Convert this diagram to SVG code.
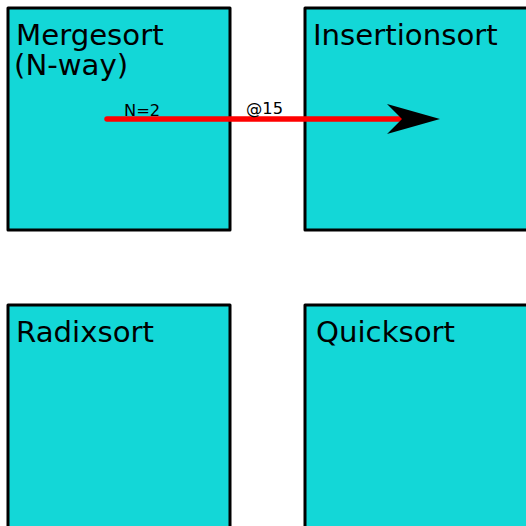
<svg xmlns="http://www.w3.org/2000/svg" width="526" height="526" viewBox="0 0 526 526">
  <style>
    .box { fill: #13d7d7; stroke: #000; stroke-width: 3; stroke-linejoin: round; }
    .title { font-family: "DejaVu Sans", sans-serif; font-size: 29.2px; fill: #000; }
    .lbl { font-family: "DejaVu Sans", sans-serif; font-size: 16.3px; fill: #000; }
    .edge { stroke: #ff0000; stroke-width: 5.5; stroke-linecap: round; fill: none; }
  </style>
  <rect width="526" height="526" fill="#fff"/>
  <g id="mergesort">
    <rect class="box" x="8" y="8" width="222" height="222"/>
    <text class="title" x="16" y="45">Mergesort<tspan x="14" dy="30">(N-way)</tspan></text>
  </g>
  <g id="insertionsort">
    <rect class="box" x="305" y="8" width="240" height="222"/>
    <text class="title" x="313" y="45">Insertionsort</text>
  </g>
  <g id="radixsort">
    <rect class="box" x="8" y="305" width="222" height="240"/>
    <text class="title" x="16" y="342">Radixsort</text>
  </g>
  <g id="quicksort">
    <rect class="box" x="305" y="305" width="240" height="240"/>
    <text class="title" x="316" y="342">Quicksort</text>
  </g>
  <g id="connectors">
    <line class="edge" x1="107" y1="119" x2="400" y2="119"/>
    <polygon points="440,119 387,104 402,119 387,134" fill="#000"/>
    <text class="lbl" x="124" y="116">N=2</text>
    <text class="lbl" x="246" y="114">@15</text>
  </g>
</svg>
